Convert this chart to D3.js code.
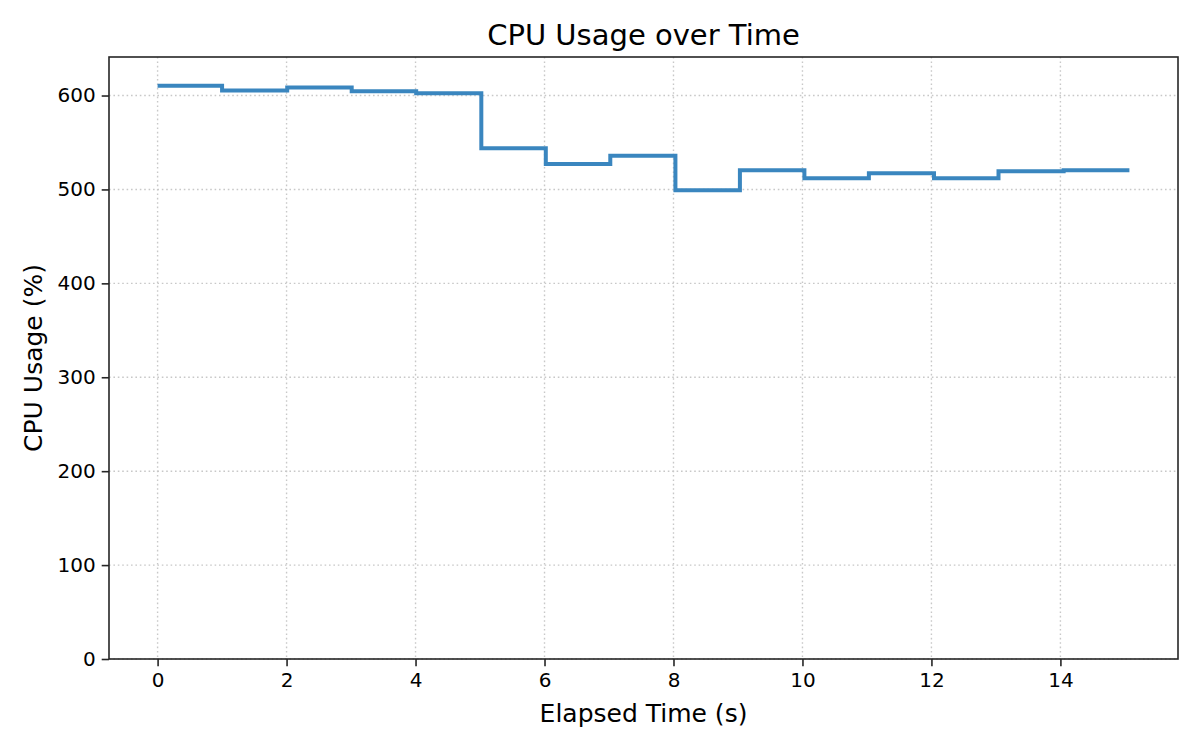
<!DOCTYPE html>
<meta charset="utf-8" />
<title>CPU Usage over Time</title>
<style>
  body { margin: 0; background: #fff; }
  text { font-family: "DejaVu Sans", sans-serif; fill: #000; }
  .grid line { stroke: #c8c8c8; stroke-width: 1.4px; stroke-dasharray: 1.6,2.8; }
  .axis path, .axis line { stroke: #262626; stroke-width: 1.6px; }
  .axis text { font-size: 20px; }
</style>
<body>
<svg width="1200" height="750"></svg>
<script src="https://d3js.org/d3.v7.min.js"></script>
<script>
const width = 1200, height = 750;
const margin = { top: 57, right: 22, bottom: 91, left: 109 };

// elapsed time (s) and CPU usage (%) samples
const times = [0, 1.00, 2.01, 3.01, 4.01, 5.02, 6.02, 7.02, 8.03, 9.03, 10.03, 11.03, 12.04, 13.04, 14.05, 15.07];
const usage = [610.5, 605.3, 608.5, 604.5, 602.3, 543.8, 527.0, 535.8, 499.2, 520.4, 512.0, 517.3, 512.0, 519.4, 520.5, 520.5];
const xTicks = [0, 2, 4, 6, 8, 10, 12, 14];
const yTicks = [0, 100, 200, 300, 400, 500, 600];

const svg = d3.select("svg");
const iw = width - margin.left - margin.right;
const ih = height - margin.top - margin.bottom;
const g = svg.append("g").attr("transform", `translate(${margin.left},${margin.top})`);

const xPad = (d3.max(times) - d3.min(times)) * 0.05;
const x = d3.scaleLinear().domain([d3.min(times) - xPad, d3.max(times) + xPad]).range([0, iw]);
const y = d3.scaleLinear().domain([0, d3.max(usage) * 1.05]).range([ih, 0]);

// grid
g.append("g").attr("class", "grid").selectAll("line")
  .data(xTicks).join("line")
  .attr("x1", d => x(d)).attr("x2", d => x(d))
  .attr("y1", 0).attr("y2", ih);
g.append("g").attr("class", "grid").selectAll("line")
  .data(yTicks).join("line")
  .attr("x1", 0).attr("x2", iw)
  .attr("y1", d => y(d)).attr("y2", d => y(d));

// step line (post)
const pts = times.map((t, i) => [t, usage[i]]);
const line = d3.line().x(d => x(d[0])).y(d => y(d[1])).curve(d3.curveStepAfter);
g.append("path")
  .datum(pts)
  .attr("fill", "none")
  .attr("stroke", "#3a86bf")
  .attr("stroke-width", 4)
  .attr("d", line);

// axes
const xAxis = g.append("g").attr("class", "axis")
  .attr("transform", `translate(0,${ih})`)
  .call(d3.axisBottom(x).tickValues(xTicks).tickFormat(d3.format("d")).tickSize(7.3).tickPadding(6).tickSizeOuter(0));
const yAxis = g.append("g").attr("class", "axis")
  .call(d3.axisLeft(y).tickValues(yTicks).tickFormat(d3.format("d")).tickSize(7.3).tickPadding(6).tickSizeOuter(0));
xAxis.select(".domain").remove();
yAxis.select(".domain").remove();

// frame
g.append("rect")
  .attr("width", iw).attr("height", ih)
  .attr("fill", "none").attr("stroke", "#262626").attr("stroke-width", 1.6);

// titles
svg.append("text")
  .attr("x", margin.left + iw / 2).attr("y", 45)
  .attr("text-anchor", "middle").style("font-size", "29px")
  .text("CPU Usage over Time");
svg.append("text")
  .attr("x", margin.left + iw / 2).attr("y", 722)
  .attr("text-anchor", "middle").style("font-size", "25px")
  .text("Elapsed Time (s)");
svg.append("text")
  .attr("transform", `translate(41.5,${margin.top + ih / 2}) rotate(-90)`)
  .attr("text-anchor", "middle").style("font-size", "25px")
  .text("CPU Usage (%)");
</script>
</body>
